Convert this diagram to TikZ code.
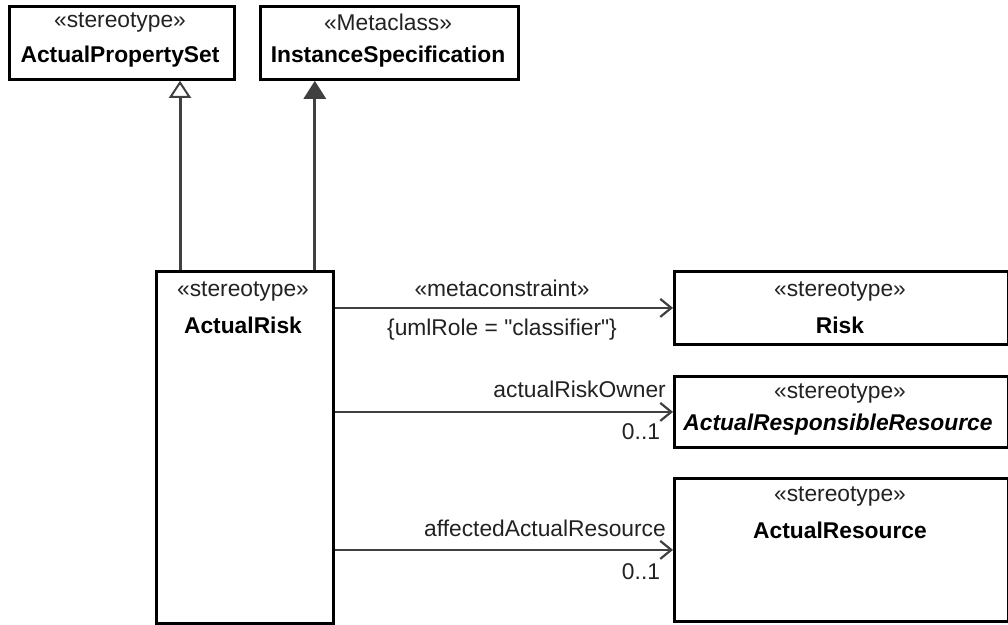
\documentclass[tikz,border=0pt]{standalone}
\usepackage{fontspec}
\setmainfont{Liberation Sans}
\newfontfamily\plainq{Liberation Sans}
\usetikzlibrary{arrows.meta,calc}
\definecolor{linegray}{HTML}{404040}
\definecolor{txtgray}{HTML}{222222}
\tikzset{
  umlbox/.style={draw=black, line width=2.8pt, fill=white, anchor=north west, inner sep=0pt},
  sttxt/.style={text=txtgray, font=\fontsize{22.8}{26}\selectfont, inner sep=0pt},
  nametxt/.style={text=black, font=\fontsize{22.8}{26}\selectfont\bfseries, inner sep=0pt},
  lbl/.style={text=txtgray, font=\fontsize{22.8}{26}\selectfont, inner sep=0pt},
  assoc/.style={draw=linegray, line width=2.6pt, -{Straight Barb[length=11pt,width=18pt,line width=2.2pt]}},
  genopen/.style={draw=linegray, line width=3pt, -{Triangle[open,length=17pt,width=22pt,line width=2pt,fill=white]}},
  genfill/.style={draw=linegray, line width=3pt, -{Triangle[length=18pt,width=22pt,fill=linegray]}}
}
\begin{document}
\begin{tikzpicture}[x=1pt,y=-1pt]
\useasboundingbox (0,0) rectangle (1008,624);
% boxes
\node[umlbox, minimum width=225pt, minimum height=73pt] (aps) at (8,5) {};
\node[umlbox, minimum width=258pt, minimum height=73pt] (isp) at (259,5) {};
\node[umlbox, minimum width=177pt, minimum height=352pt] (ar) at (155,270) {};
\node[umlbox, minimum width=334pt, minimum height=73pt] (risk) at (673,270) {};
\node[umlbox, minimum width=334pt, minimum height=71pt] (arr) at (673,375) {};
\node[umlbox, minimum width=334pt, minimum height=143pt] (ares) at (673,477) {};
% box texts
\node[sttxt] (aps1) at (120,22) {«stereotype»};
\node[nametxt] (aps2) at (120,57) {ActualPropertySet};
\node[sttxt] (isp1) at (388,22) {«Metaclass»};
\node[nametxt] (isp2) at (388,57) {InstanceSpecification};
\node[sttxt] (ar1) at (243,291) {«stereotype»};
\node[nametxt] (ar2) at (243,325) {ActualRisk};
\node[sttxt] (risk1) at (840,291) {«stereotype»};
\node[nametxt] (risk2) at (840,325) {Risk};
\node[sttxt] (arr1) at (840,393) {«stereotype»};
\node[nametxt, font=\fontsize{22.8}{26}\selectfont\bfseries\itshape] (arr2) at (838,425) {ActualResponsibleResource};
\node[sttxt] (ares1) at (840,496) {«stereotype»};
\node[nametxt] (ares2) at (840,530) {ActualResource};
% generalizations
\draw[genopen] ([xshift=25pt]ar.north west) -- ([xshift=25pt]ar.north west |- aps.south);
\draw[genfill] ([xshift=-20pt]ar.north east) -- ([xshift=-20pt]ar.north east |- isp.south);
% associations
\draw[assoc] (risk.west -| ar.east) -- (risk.west);
\draw[assoc] (arr.west -| ar.east) -- (arr.west);
\draw[assoc] (ares.west -| ar.east) -- (ares.west);
% labels
\node[lbl] (mc) at (502,288) {«metaconstraint»};
\node[lbl] (role) at (502,330) {\{umlRole = {\plainq"}classifier{\plainq"}\}};
\node[lbl, anchor=east] (own) at (666,389) {actualRiskOwner};
\node[lbl] (m1) at (641,432) {0..1};
\node[lbl, anchor=east] (aff) at (666,528) {affectedActualResource};
\node[lbl] (m2) at (641,572) {0..1};
\end{tikzpicture}
\end{document}
